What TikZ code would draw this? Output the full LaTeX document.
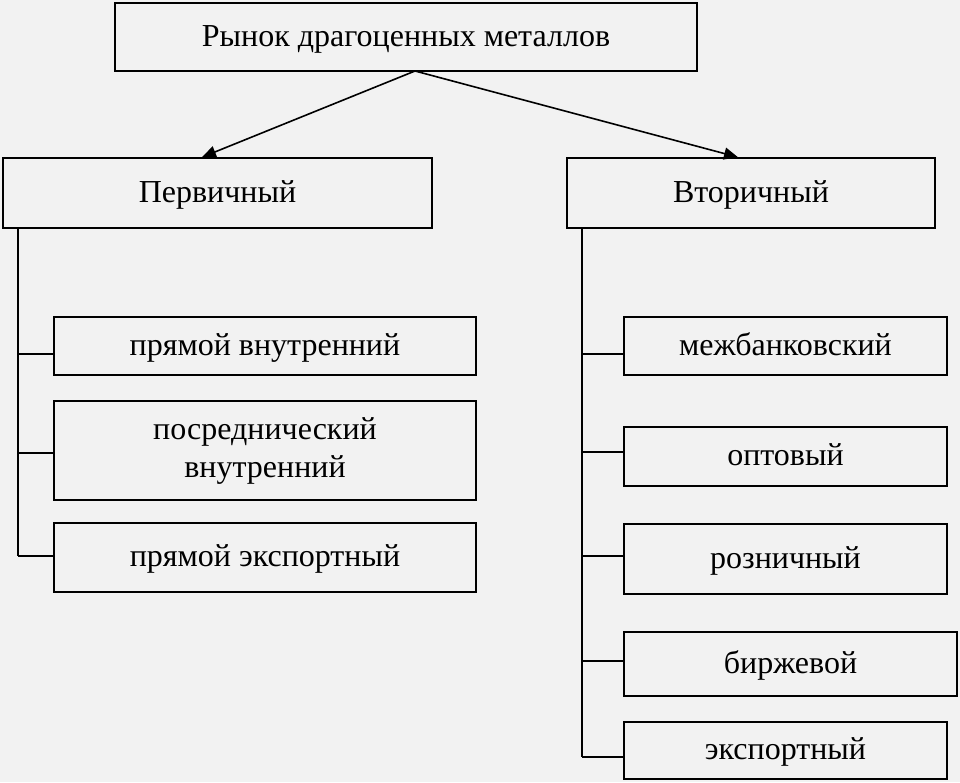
\documentclass[tikz,border=0pt]{standalone}
\usepackage{fontspec}
\setmainfont{Liberation Serif}
\usetikzlibrary{arrows.meta}
\definecolor{bgc}{HTML}{F2F2F2}
\begin{document}
\begin{tikzpicture}[x=1pt,y=-1pt,
  boxbase/.style={draw=black, line width=1.6pt, fill=bgc, inner sep=0pt, align=center, font=\fontsize{32}{38}\selectfont},
  box/.style={boxbase, text height=23pt, text depth=5pt},
  box2/.style={boxbase, text height=60pt, text depth=6pt},
  conn/.style={draw=black, line width=1.6pt},
  arr/.style={conn, -{Triangle[length=14pt,width=12pt]}}]
\fill[bgc] (0,0) rectangle (960,782);
\useasboundingbox (0,0) rectangle (960,782);
% top
\node[box, minimum width=582pt, minimum height=68pt] (top) at (406,37) {Рынок драгоценных металлов};
\node[box, minimum width=429pt, minimum height=70pt] (prim) at (217.5,193) {Первичный};
\node[box, minimum width=368pt, minimum height=70pt] (sec) at (751,193) {Вторичный};
\coordinate (src) at (415,71);
\draw[arr] (src) -- (prim.north -| 202,0);
\draw[arr] (src) -- (sec.north -| 738,0);
% left column
\node[box, minimum width=422pt, minimum height=58pt] (l1) at (265,346) {прямой внутренний};
\node[box2, minimum width=422pt, minimum height=99pt] (l2) at (265,450.5) {посреднический\\внутренний};
\node[box, minimum width=422pt, minimum height=69pt] (l3) at (265,557.5) {прямой экспортный};
\coordinate (lb1) at (18,354);
\coordinate (lb2) at (18,453);
\coordinate (lb3) at (18,556);
\draw[conn] (prim.south -| lb1) -- (lb3);
\draw[conn] (lb1) -- (lb1 -| l1.west);
\draw[conn] (lb2) -- (lb2 -| l2.west);
\draw[conn] (lb3) -- (lb3 -| l3.west);
% right column
\node[box, minimum width=323pt, minimum height=58pt] (r1) at (785.5,346) {межбанковский};
\node[box, minimum width=323pt, minimum height=59pt] (r2) at (785.5,456.5) {оптовый};
\node[box, minimum width=323pt, minimum height=70pt] (r3) at (785.5,559) {розничный};
\node[box, minimum width=333pt, minimum height=64pt] (r4) at (790.5,664) {биржевой};
\node[box, minimum width=323pt, minimum height=57pt] (r5) at (785.5,750.5) {экспортный};
\coordinate (rb1) at (582,354);
\coordinate (rb2) at (582,452);
\coordinate (rb3) at (582,556);
\coordinate (rb4) at (582,661);
\coordinate (rb5) at (582,757);
\draw[conn] (sec.south -| rb1) -- (rb5);
\draw[conn] (rb1) -- (rb1 -| r1.west);
\draw[conn] (rb2) -- (rb2 -| r2.west);
\draw[conn] (rb3) -- (rb3 -| r3.west);
\draw[conn] (rb4) -- (rb4 -| r4.west);
\draw[conn] (rb5) -- (rb5 -| r5.west);
\end{tikzpicture}
\end{document}
